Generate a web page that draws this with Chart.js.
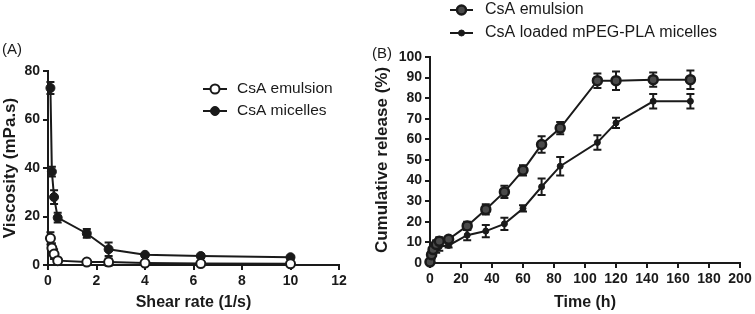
<!DOCTYPE html>
<html>
<head>
<meta charset="utf-8">
<script src="https://cdn.jsdelivr.net/npm/chart.js@4.4.1/dist/chart.umd.min.js"></script>
<style>
    body { margin: 0; background: #fff; width: 755px; height: 314px; position: relative; overflow: hidden; font-family: "Liberation Sans", Arial, sans-serif; }
    #wrap-a { position: absolute; left: 0; top: 0; width: 360px; height: 314px; }
    #wrap-b { position: absolute; left: 360px; top: 0; width: 395px; height: 314px; }
    .panel-label { position: absolute; font-size: 15px; color: #1a1a1a; }
</style>
</head>
<body>
<div id="wrap-a"><canvas id="viscosity-chart" width="360" height="314"></canvas></div>
<div id="wrap-b"><canvas id="release-chart" width="395" height="314"></canvas></div>
<div class="panel-label" style="left:2px; top:40px;">(A)</div>
<div class="panel-label" style="left:372px; top:44px;">(B)</div>
<script>
// panel A - viscosity vs shear rate
var shear_rate = [0.1, 0.16, 0.25, 0.4, 1.6, 2.5, 4, 6.3, 10];
var emulsion_visc = [11, 7, 4.5, 1.8, 1.2, 1.2, 0.8, 0.6, 0.5];
var emulsion_visc_err = [2.5, 2, 2, 1, 0.5, 1.5, 0.5, 0.5, 0.5];
var micelle_visc = [73, 38.5, 28, 19.5, 13, 6.5, 4.2, 3.7, 3.2];
var micelle_visc_err = [2.5, 2, 2.8, 2, 1.8, 2.8, 0.5, 0.5, 0.5];

// panel B - cumulative release vs time
var release_time = [0, 1, 2, 4, 6, 12, 24, 36, 48, 60, 72, 84, 108, 120, 144, 168];
var emulsion_release = [0.5, 4, 6.5, 9, 10.5, 11.5, 18, 26, 34.5, 45, 57.5, 65.5, 88.5, 88.5, 89, 89];
var emulsion_release_err = [1, 1.5, 2, 2, 2, 1, 2, 2.5, 3, 2.5, 4, 3, 3.5, 4.5, 3.5, 4.5];
var micelle_release = [0, 3.5, 5, 7, 8, 8.5, 13.5, 15.5, 19, 26.5, 37, 47, 58.5, 68, 78.5, 78.5];
var micelle_release_err = [1, 1.5, 1.5, 2, 2, 1, 2.5, 3, 3, 1.5, 4, 4.5, 3.5, 2.5, 3.5, 3.5];

var INK = '#1a1a1a';

function toPoints(xs, ys) {
    return xs.map(function (x, i) { return { x: x, y: ys[i] }; });
}

var errorBarPlugin = {
    id: 'errorBars',
    beforeDatasetsDraw: function (chart) {
        var ctx = chart.ctx;
        var yScale = chart.scales.y;
        chart.data.datasets.forEach(function (ds, i) {
            if (!ds.errors) return;
            var meta = chart.getDatasetMeta(i);
            ctx.save();
            ctx.strokeStyle = INK;
            ctx.lineWidth = 2;
            meta.data.forEach(function (pt, j) {
                var v = ds.data[j].y;
                var e = ds.errors[j];
                var top = yScale.getPixelForValue(v + e);
                var bot = yScale.getPixelForValue(v - e);
                ctx.beginPath();
                ctx.moveTo(pt.x, top); ctx.lineTo(pt.x, bot);
                ctx.moveTo(pt.x - 4, top); ctx.lineTo(pt.x + 4, top);
                ctx.moveTo(pt.x - 4, bot); ctx.lineTo(pt.x + 4, bot);
                ctx.stroke();
            });
            ctx.restore();
        });
    }
};

var legendPlugin = {
    id: 'placedLegend',
    afterDraw: function (chart, args, opts) {
        var ctx = chart.ctx;
        chart.data.datasets.forEach(function (ds, i) {
            var y = opts.y + i * opts.gap;
            ctx.save();
            ctx.strokeStyle = INK;
            ctx.lineWidth = ds.borderWidth;
            ctx.beginPath();
            ctx.moveTo(opts.x, y);
            ctx.lineTo(opts.x + opts.lineLen, y);
            ctx.stroke();
            ctx.fillStyle = ds.pointBackgroundColor;
            ctx.strokeStyle = ds.pointBorderColor;
            ctx.lineWidth = ds.pointBorderWidth;
            Chart.helpers.drawPoint(ctx, { pointStyle: 'circle', radius: ds.pointRadius, borderWidth: ds.pointBorderWidth, rotation: 0 }, opts.x + opts.lineLen / 2, y);
            ctx.fillStyle = INK;
            ctx.font = opts.fontSize + 'px "Liberation Sans", Arial, sans-serif';
            ctx.textBaseline = 'middle';
            ctx.fillText(ds.label, opts.x + opts.lineLen + opts.textGap, y);
            ctx.restore();
        });
    }
};

function axisOptions(min, max, step, title, isX, fitSize, titlePad) {
    return {
        type: 'linear',
        min: min,
        max: max,
        ticks: {
            stepSize: step,
            color: INK,
            padding: 3,
            font: { family: '"Liberation Sans", Arial, sans-serif', size: 14, weight: 'bold' }
        },
        grid: { drawOnChartArea: false, drawTicks: true, tickLength: 5, color: INK, lineWidth: 2 },
        border: { display: true, color: INK, width: 2 },
        title: {
            display: true,
            text: title,
            color: INK,
            padding: titlePad,
            font: { family: '"Liberation Sans", Arial, sans-serif', size: isX ? 16 : 17, weight: 'bold' }
        },
        afterFit: function (scale) {
            if (isX) { scale.height = fitSize; } else { scale.width = fitSize; }
        }
    };
}

var ViscosityChart = new Chart(document.getElementById('viscosity-chart'), {
    type: 'line',
    data: {
        datasets: [{
            label: 'CsA emulsion',
            data: toPoints(shear_rate, emulsion_visc),
            errors: emulsion_visc_err,
            borderColor: INK,
            borderWidth: 2,
            pointRadius: 4.5,
            pointBorderWidth: 2,
            pointBackgroundColor: '#fff',
            pointBorderColor: INK,
            clip: false
        }, {
            label: 'CsA micelles',
            data: toPoints(shear_rate, micelle_visc),
            errors: micelle_visc_err,
            borderColor: INK,
            borderWidth: 2,
            pointRadius: 4.5,
            pointBorderWidth: 1,
            pointBackgroundColor: INK,
            pointBorderColor: INK,
            clip: false
        }]
    },
    plugins: [errorBarPlugin, legendPlugin],
    options: {
        responsive: false,
        animation: false,
        layout: { padding: { top: 71, right: 21, left: 0, bottom: 0 } },
        plugins: {
            legend: false,
            tooltip: { enabled: false },
            placedLegend: { x: 203, y: 89, gap: 22, lineLen: 24, textGap: 10, fontSize: 15.5 }
        },
        scales: {
            x: axisOptions(0, 12, 2, 'Shear rate (1/s)', true, 49, { top: 0, bottom: 2 }),
            y: axisOptions(0, 80, 20, 'Viscosity (mPa.s)', false, 48, { top: 0, bottom: 0 })
        }
    }
});

var ReleaseChart = new Chart(document.getElementById('release-chart'), {
    type: 'line',
    data: {
        datasets: [{
            label: 'CsA emulsion',
            data: toPoints(release_time, emulsion_release),
            errors: emulsion_release_err,
            borderColor: INK,
            borderWidth: 2,
            pointRadius: 4.5,
            pointBorderWidth: 2.5,
            pointBackgroundColor: '#4a4a4a',
            pointBorderColor: INK,
            clip: false
        }, {
            label: 'CsA loaded mPEG-PLA micelles',
            data: toPoints(release_time, micelle_release),
            errors: micelle_release_err,
            borderColor: INK,
            borderWidth: 2,
            pointRadius: 3,
            pointBorderWidth: 1,
            pointBackgroundColor: INK,
            pointBorderColor: INK,
            clip: false
        }]
    },
    plugins: [errorBarPlugin, legendPlugin],
    options: {
        responsive: false,
        animation: false,
        layout: { padding: { top: 57, right: 15, left: 0, bottom: 0 } },
        plugins: {
            legend: false,
            tooltip: { enabled: false },
            placedLegend: { x: 90, y: 10, gap: 23, lineLen: 23, textGap: 12, fontSize: 16 }
        },
        scales: {
            x: axisOptions(0, 200, 20, 'Time (h)', true, 51, { top: 0, bottom: 2 }),
            y: axisOptions(0, 100, 10, 'Cumulative release (%)', false, 70, { top: 12, bottom: 0 })
        }
    }
});
</script>
</body>
</html>
